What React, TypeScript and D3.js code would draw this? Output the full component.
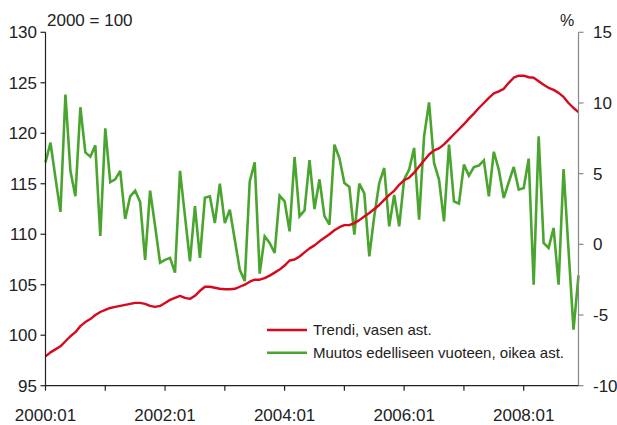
import React from "react";
import * as d3 from "d3";

const START_YEAR = 2000;
const trend: number[] = [
  97.9, 98.3, 98.6, 98.9, 99.4, 99.9, 100.3, 100.9, 101.3, 101.6, 102.0, 102.3,
  102.5, 102.7, 102.8, 102.9, 103.0, 103.1, 103.2, 103.2, 103.1, 102.9, 102.8, 102.9,
  103.2, 103.5, 103.7, 103.9, 103.7, 103.6, 103.9, 104.4, 104.8, 104.8, 104.7, 104.6,
  104.55, 104.55, 104.6, 104.8, 105.0, 105.3, 105.5, 105.5, 105.65, 105.9, 106.2, 106.5,
  106.9, 107.4, 107.5, 107.8, 108.2, 108.6, 108.9, 109.3, 109.65, 110.0, 110.4, 110.7,
  110.9, 110.9, 111.1, 111.4, 111.75, 112.1, 112.5, 112.9, 113.4, 113.9, 114.3, 114.9,
  115.35, 115.6, 116.1, 116.7, 117.3, 117.9, 118.3, 118.5, 118.9, 119.4, 119.9, 120.4,
  120.9, 121.45, 121.95, 122.5, 123.0, 123.5, 123.95, 124.15, 124.4, 125.0, 125.5, 125.7,
  125.7, 125.55, 125.5, 125.15, 124.8, 124.5, 124.3, 124.0, 123.6, 123.0, 122.5, 122.1,
];
const change: number[] = [
  5.8, 7.2, 4.7, 2.3, 10.6, 5.2, 3.4, 9.7, 6.5, 6.2, 7.0, 0.6,
  8.2, 4.4, 4.6, 5.2, 1.8, 3.4, 3.8, 3.0, -1.1, 3.8, 1.3, -1.3,
  -1.1, -0.96, -2.0, 5.2, 2.0, -1.2, 2.7, -0.96, 3.3, 3.4, 1.5, 4.3,
  1.5, 2.45, 0.33, -1.8, -2.6, 4.45, 5.8, -2.07, 0.57, 0.1, -0.61, 3.44,
  3.04, 0.92, 6.18, 1.98, 2.4, 5.95, 2.5, 4.6, 2.0, 1.4, 7.05, 6.1,
  4.34, 4.06, 0.69, 4.3, 3.6, -0.85, 2.0, 4.34, 5.4, 1.27, 3.5, 1.27,
  4.6, 5.28, 6.82, 1.75, 7.64, 10.04, 5.76, 4.58, 1.63, 7.05, 3.04, 2.88,
  5.64, 4.86, 5.47, 5.57, 5.94, 3.4, 6.55, 5.28, 3.28, 4.4, 5.47, 3.87,
  3.99, 6.06, -2.85, 7.64, 0.1, -0.25, 1.16, -2.85, 5.33, -0.4, -6.03, -2.2,
];
const leftTicks = [95, 100, 105, 110, 115, 120, 125, 130];
const rightTicks = [-10, -5, 0, 5, 10, 15];
const xTickYears = [0, 1, 2, 3, 4, 5, 6, 7, 8];
const xLabelYears = [0, 2, 4, 6, 8];
const legendLabels = ["Trendi, vasen ast.", "Muutos edelliseen vuoteen, oikea ast."];
const leftTitle = "2000 = 100";
const rightTitle = "%";

const RED = "#d7091f";
const GREEN = "#4aa52f";
const FONT = "'Liberation Sans', Arial, sans-serif";

export default function App() {
  const x = d3.scaleLinear().domain([0, trend.length - 1]).range([45.5, 578.5]);
  const yL = d3.scaleLinear().domain([95, 130]).range([385.7, 32.3]);
  const yR = d3.scaleLinear().domain([-10, 15]).range([385.7, 32.3]);
  const lineL = d3.line<number>().x((_, i) => x(i)).y((d) => yL(d));
  const lineR = d3.line<number>().x((_, i) => x(i)).y((d) => yR(d));
  const x0 = x.range()[0];
  const x1 = x.range()[1];
  const yb = yL.range()[0];
  const yt = yL.range()[1];
  return (
    <svg width={617} height={425} style={{ position: "absolute", left: 0, top: 0, background: "#fff" }} fontFamily={FONT}>
      <path d={lineR(change) || ""} fill="none" stroke={GREEN} strokeWidth={2.6} strokeLinejoin="miter" strokeMiterlimit={3} />
      <path d={lineL(trend) || ""} fill="none" stroke={RED} strokeWidth={2.4} strokeLinejoin="round" />
      {/* left axis */}
      <line x1={x0} x2={x0} y1={yt} y2={yb} stroke="#222" strokeWidth={1.2} />
      {leftTicks.map((t) => (
        <g key={"l" + t}>
          <line x1={x0 - 5} x2={x0} y1={yL(t)} y2={yL(t)} stroke="#222" strokeWidth={1.2} />
          <text x={37} y={yL(t)} dy="0.36em" textAnchor="end" fontSize={17} fill="#222">{t}</text>
        </g>
      ))}
      {/* right axis */}
      <line x1={x1} x2={x1} y1={yt} y2={yb} stroke="#888" strokeWidth={1.2} />
      {rightTicks.map((t) => (
        <g key={"r" + t}>
          <line x1={x1} x2={x1 + 5} y1={yR(t)} y2={yR(t)} stroke="#888" strokeWidth={1.2} />
          <text x={593} y={yR(t)} dy="0.36em" textAnchor="start" fontSize={17} fill="#222">{t}</text>
        </g>
      ))}
      {/* bottom axis */}
      <line x1={x0} x2={x1} y1={yb} y2={yb} stroke="#222" strokeWidth={1.2} />
      {xTickYears.map((yy) => (
        <line key={"t" + yy} x1={x(yy * 12)} x2={x(yy * 12)} y1={yb} y2={yb + 5} stroke="#222" strokeWidth={1.2} />
      ))}
      {xLabelYears.map((yy) => (
        <text key={"x" + yy} x={x(yy * 12)} y={421} textAnchor="middle" fontSize={17} fill="#222">
          {`${START_YEAR + yy}:01`}
        </text>
      ))}
      <text x={47} y={26} fontSize={17} fill="#222">{leftTitle}</text>
      <text x={560} y={26} fontSize={16} fill="#222">{rightTitle}</text>
      {/* legend */}
      <line x1={267} x2={307} y1={330} y2={330} stroke={RED} strokeWidth={2.6} />
      <line x1={267} x2={307} y1={352.7} y2={352.7} stroke={GREEN} strokeWidth={2.6} />
      <text x={313} y={330} dy="0.36em" fontSize={15} fill="#222">{legendLabels[0]}</text>
      <text x={313} y={352.7} dy="0.36em" fontSize={15} fill="#222">{legendLabels[1]}</text>
    </svg>
  );
}
